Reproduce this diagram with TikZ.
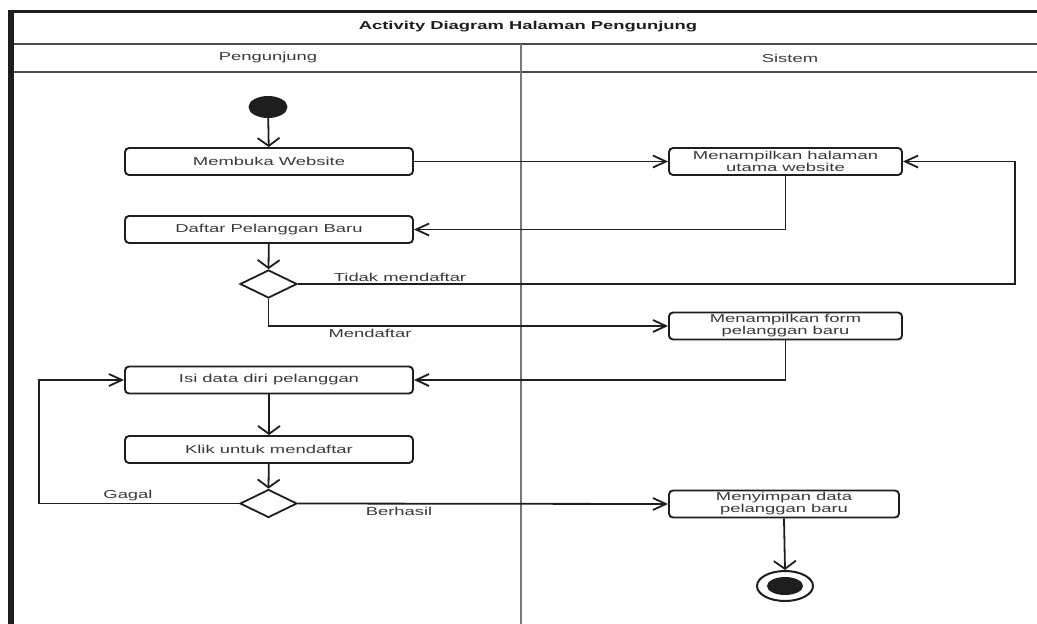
\documentclass[tikz,border=0pt]{standalone}
\usepackage{fontspec}
\setmainfont{Liberation Sans}[FakeStretch=1.6]
\usetikzlibrary{shapes.geometric,arrows.meta}
\definecolor{ink}{HTML}{1E1E1E}
\definecolor{txt}{HTML}{3A3A3A}
\definecolor{rule}{HTML}{4A4A4A}
\definecolor{lane}{HTML}{777777}
\tikzset{
  act/.style={draw=ink, line width=1.9pt, rounded corners=4pt, fill=white,
    minimum width=288, minimum height=27, inner sep=0pt, text=txt,
    font=\fontsize{11.5}{12}\selectfont, align=center},
  actr/.style={act, minimum width=233},
  decision/.style={shape=diamond, draw=ink, line width=1.8pt, fill=white,
    minimum width=57, minimum height=28, inner sep=0pt},
  flow/.style={draw=ink, line width=1.8pt},
  vflow/.style={flow, -{Straight Barb[length=8pt, width=22pt, line width=1.8pt]}},
  hflow/.style={flow, -{Straight Barb[length=13pt, width=12pt, line width=1.8pt]}},
  guard/.style={text=txt, font=\fontsize{11.5}{12}\selectfont, inner sep=0pt},
  lanehead/.style={text=txt, font=\fontsize{11.5}{12}\selectfont, inner sep=0pt}
}
\begin{document}
\begin{tikzpicture}[x=1pt, y=-1pt]
\useasboundingbox (0,0) rectangle (1037,624);
\fill[white] (0,0) rectangle (1037,624);

% swimlane frame
\draw[rule, line width=2pt] (8,44) -- (1037,44);
\draw[rule, line width=2.3pt] (8,72) -- (1037,72);
\draw[lane, line width=2.8pt] (521,44) -- (521,624);
\draw[ink, line width=3pt] (8,11) -- (1037,11);
\draw[ink, line width=6pt] (11,9.5) -- (11,624);
\node[text=ink, font=\bfseries\fontsize{11.5}{12}\selectfont, inner sep=0pt] (title) at (528,27) {Activity Diagram Halaman Pengunjung};
\node[lanehead] (lane1) at (268,58) {Pengunjung};
\node[lanehead] (lane2) at (790,58) {Sistem};

% activities
\node[ellipse, fill=ink, minimum width=39, minimum height=22, inner sep=0pt] (start) at (268,107) {};
\node[act] (buka) at (269,161.5) {Membuka Website};
\node[act] (daftar) at (269,229.5) {Daftar Pelanggan Baru};
\node[decision] (d1) at (268.5,284) {};
\node[act] (isi) at (269,380) {Isi data diri pelanggan};
\node[act] (klik) at (269,449.5) {Klik untuk mendaftar};
\node[decision] (d2) at (268.5,503.5) {};

\node[actr] (utama) at (785.5,161.5) {Menampilkan halaman\\utama website};
\node[actr] (form) at (785.5,326) {Menampilkan form\\pelanggan baru};
\node[actr, minimum width=230] (simpan) at (784,504) {Menyimpan data\\pelanggan baru};
\node[ellipse, draw=ink, line width=2pt, fill=white, minimum width=56, minimum height=30, inner sep=0pt] (stop) at (785,586) {};
\node[ellipse, fill=ink, minimum width=36, minimum height=18, inner sep=0pt] (stopdot) at (785,586) {};

% flows
\draw[vflow] (start) -- (buka);
\draw[hflow] (buka) -- (utama);
\draw[hflow] (utama.south) |- (daftar.east);
\draw[vflow] (daftar) -- (d1.north);
\coordinate (loopR) at (1015,284);
\draw[hflow] (d1.east) -- (loopR) |- (utama.east);
\draw[hflow] (d1.south) |- (form.west);
\draw[hflow] (form.south) |- (isi.east);
\draw[vflow] (isi) -- (klik);
\draw[vflow] (klik) -- (d2.north);
\coordinate (loopL) at (39,503.5);
\draw[hflow] (d2.west) -- (loopL) |- (isi.west);
\draw[hflow] (d2.east) -- (simpan.west);
\draw[vflow] (simpan.south) -- (stop.north);

% guards
\node[guard] (g1) at (400,277) {Tidak mendaftar};
\node[guard] (g2) at (370,333) {Mendaftar};
\node[guard] (g3) at (128,496) {Gagal};
\node[guard] (g4) at (399,511) {Berhasil};
\end{tikzpicture}
\end{document}
